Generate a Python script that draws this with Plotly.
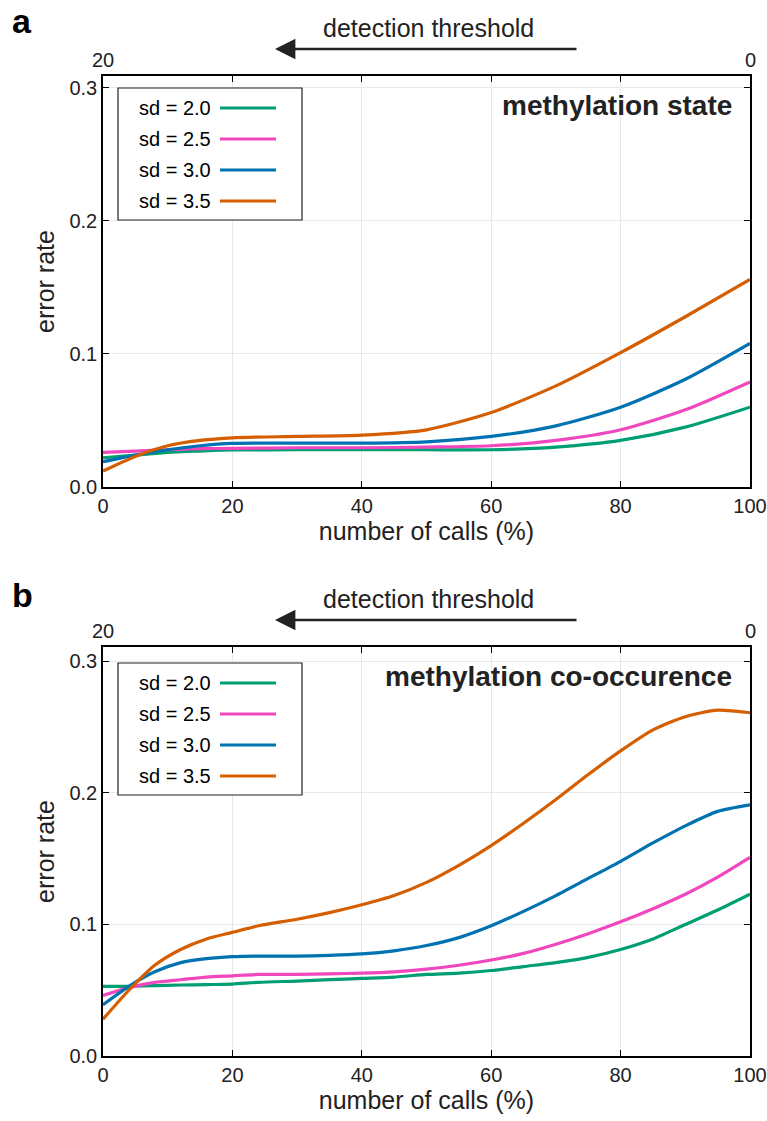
import plotly.graph_objects as go
from plotly.subplots import make_subplots

# ---------------- data ----------------
series_names = ["sd = 2.0", "sd = 2.5", "sd = 3.0", "sd = 3.5"]
series_colors = ["#009E73", "#F046BE", "#0072B2", "#D55E00"]

x_a = [0, 5, 10, 15, 20, 30, 40, 50, 60, 70, 80, 90, 100]
green_a = [0.022, 0.024, 0.026, 0.027, 0.0278, 0.028, 0.028, 0.028, 0.028, 0.030, 0.035, 0.045, 0.060]
pink_a = [0.026, 0.027, 0.028, 0.0288, 0.029, 0.0295, 0.0295, 0.030, 0.031, 0.035, 0.043, 0.058, 0.079]
blue_a = [0.019, 0.024, 0.028, 0.031, 0.0328, 0.033, 0.033, 0.034, 0.038, 0.046, 0.060, 0.081, 0.108]
orange_a = [0.012, 0.023, 0.031, 0.035, 0.037, 0.038, 0.039, 0.043, 0.056, 0.076, 0.101, 0.128, 0.156]

x_b = [0, 4, 8, 12, 16, 20, 24, 30, 35, 40, 45, 50, 55, 60, 65, 70, 75, 80, 85, 90, 95, 100]
green_b = [0.053, 0.053, 0.0535, 0.054, 0.0543, 0.0547, 0.056, 0.057, 0.058, 0.059, 0.060, 0.062,
           0.063, 0.065, 0.068, 0.071, 0.075, 0.081, 0.089, 0.100, 0.111, 0.123]
pink_b = [0.046, 0.052, 0.056, 0.058, 0.060, 0.061, 0.062, 0.062, 0.0625, 0.063, 0.064, 0.066,
          0.069, 0.073, 0.078, 0.085, 0.093, 0.102, 0.112, 0.123, 0.136, 0.151]
blue_b = [0.039, 0.053, 0.064, 0.071, 0.074, 0.0755, 0.076, 0.076, 0.0765, 0.0776, 0.080, 0.084,
          0.090, 0.099, 0.110, 0.122, 0.135, 0.148, 0.162, 0.175, 0.186, 0.191]
orange_b = [0.028, 0.050, 0.069, 0.081, 0.089, 0.094, 0.099, 0.104, 0.109, 0.115, 0.122, 0.132,
            0.145, 0.160, 0.177, 0.195, 0.214, 0.232, 0.248, 0.258, 0.263, 0.261]

panel_titles = ["methylation state", "methylation co-occurence"]
panel_letters = ["a", "b"]
x_ticks = [0, 20, 40, 60, 80, 100]
y_ticks = [0.0, 0.1, 0.2, 0.3]
top_tick_labels = ["20", "0"]
x_title = "number of calls (%)"
y_title = "error rate"
arrow_label = "detection threshold"

panels = [
    (x_a, [green_a, pink_a, blue_a, orange_a], [0, 0.309]),
    (x_b, [green_b, pink_b, blue_b, orange_b], [0, 0.311]),
]

# ---------------- layout helpers (page pixel coordinates) ----------------
W, H = 767, 1121
PL, PR, PT, PB = 103, 750, 76, 1056  # plot area in pixels
PW = PR - PL
PH = PB - PT


def px(xp):
    return (xp - PL) / PW


def py(yp):
    return (PB - yp) / PH


FONT = "Liberation Sans, Arial, Helvetica, sans-serif"
TXT = "#222"

fig = make_subplots(rows=2, cols=1, vertical_spacing=0.0)
dom_a = [py(487), 1.0]
dom_b = [0.0, py(647)]

for i, (xs, ys_list, yr) in enumerate(panels):
    for name, color, ys in zip(series_names, series_colors, ys_list):
        fig.add_trace(go.Scatter(x=xs, y=ys, mode="lines", name=name,
                                 line=dict(color=color, width=3.2, shape="spline", smoothing=0.7),
                                 showlegend=False), row=i + 1, col=1)

axis_common = dict(showline=True, linecolor="black", linewidth=1.6, mirror="ticks",
                   ticks="inside", ticklen=6, tickwidth=1.2, tickcolor="black",
                   showgrid=True, gridcolor="#e8e8e8", gridwidth=1, zeroline=False,
                   automargin=False,
                   tickfont=dict(family=FONT, size=20, color=TXT))

for i in range(2):
    xa = "xaxis" if i == 0 else "xaxis2"
    ya = "yaxis" if i == 0 else "yaxis2"
    fig.layout[xa].update(range=[0, 100], tickvals=x_ticks, **axis_common,
                          title=dict(text=x_title, font=dict(family=FONT, size=25, color=TXT),
                                     standoff=5))
    fig.layout[ya].update(range=panels[i][2], tickvals=y_ticks, tickformat=".1f", **axis_common,
                          title=dict(text=y_title, font=dict(family=FONT, size=25, color=TXT),
                                     standoff=8))
fig.layout.yaxis.domain = dom_a
fig.layout.yaxis2.domain = dom_b

annotations = []
shapes = []

panel_tops = [76, 647]
letter_tops = [0, 574]
for i in range(2):
    top = panel_tops[i]
    yd = "y domain" if i == 0 else "y2 domain"
    # panel letter
    annotations.append(dict(text="<b>%s</b>" % panel_letters[i], x=px(22), y=py(letter_tops[i]),
                            xref="paper", yref="paper", xanchor="center", yanchor="top",
                            showarrow=False, font=dict(family=FONT, size=34, color="black")))
    # detection threshold label
    annotations.append(dict(text=arrow_label, x=px(428), y=py(top - 48), xref="paper", yref="paper",
                            xanchor="center", yanchor="middle", showarrow=False,
                            font=dict(family=FONT, size=25, color=TXT)))
    # arrow
    annotations.append(dict(text="", x=px(275), y=py(top - 27), xref="paper", yref="paper",
                            ax=303, ay=0, showarrow=True,
                            arrowhead=2, arrowsize=1.7, arrowwidth=2.4, arrowcolor="#222"))
    # top axis labels
    for xv, lab in zip([0, 100], top_tick_labels):
        annotations.append(dict(text=lab, x=xv, y=1, xref="x" if i == 0 else "x2", yref=yd,
                                xanchor="center", yanchor="bottom", yshift=3, showarrow=False,
                                font=dict(family=FONT, size=20, color=TXT)))
    # panel title
    annotations.append(dict(text="<b>%s</b>" % panel_titles[i], x=px(734), y=py(top + 29),
                            xref="paper", yref="paper", xanchor="right", yanchor="middle",
                            showarrow=False, font=dict(family=FONT, size=28, color=TXT)))
    # legend box
    box_top = top + 12 if i == 0 else top + 16
    shapes.append(dict(type="rect", xref="paper", yref="paper",
                       x0=px(118), x1=px(302), y0=py(box_top), y1=py(box_top + 132),
                       line=dict(color="#222", width=1.2), fillcolor="white", layer="above"))
    for k, (name, color) in enumerate(zip(series_names, series_colors)):
        yy = box_top + 20 + k * 31
        annotations.append(dict(text=name, x=px(213), y=py(yy), xref="paper", yref="paper",
                                xanchor="right", yanchor="middle", showarrow=False,
                                font=dict(family=FONT, size=20, color="black")))
        shapes.append(dict(type="line", xref="paper", yref="paper", x0=px(220), x1=px(276),
                           y0=py(yy), y1=py(yy), line=dict(color=color, width=3.2), layer="above"))

fig.update_layout(width=W, height=H,
                  margin=dict(l=PL, r=W - PR, t=PT, b=H - PB, autoexpand=False),
                  plot_bgcolor="white", paper_bgcolor="white",
                  annotations=annotations, shapes=shapes, showlegend=False)

fig.write_html("out.html", config={"displayModeBar": False},
               post_script="document.body.style.margin='0';document.body.style.overflow='hidden';")
